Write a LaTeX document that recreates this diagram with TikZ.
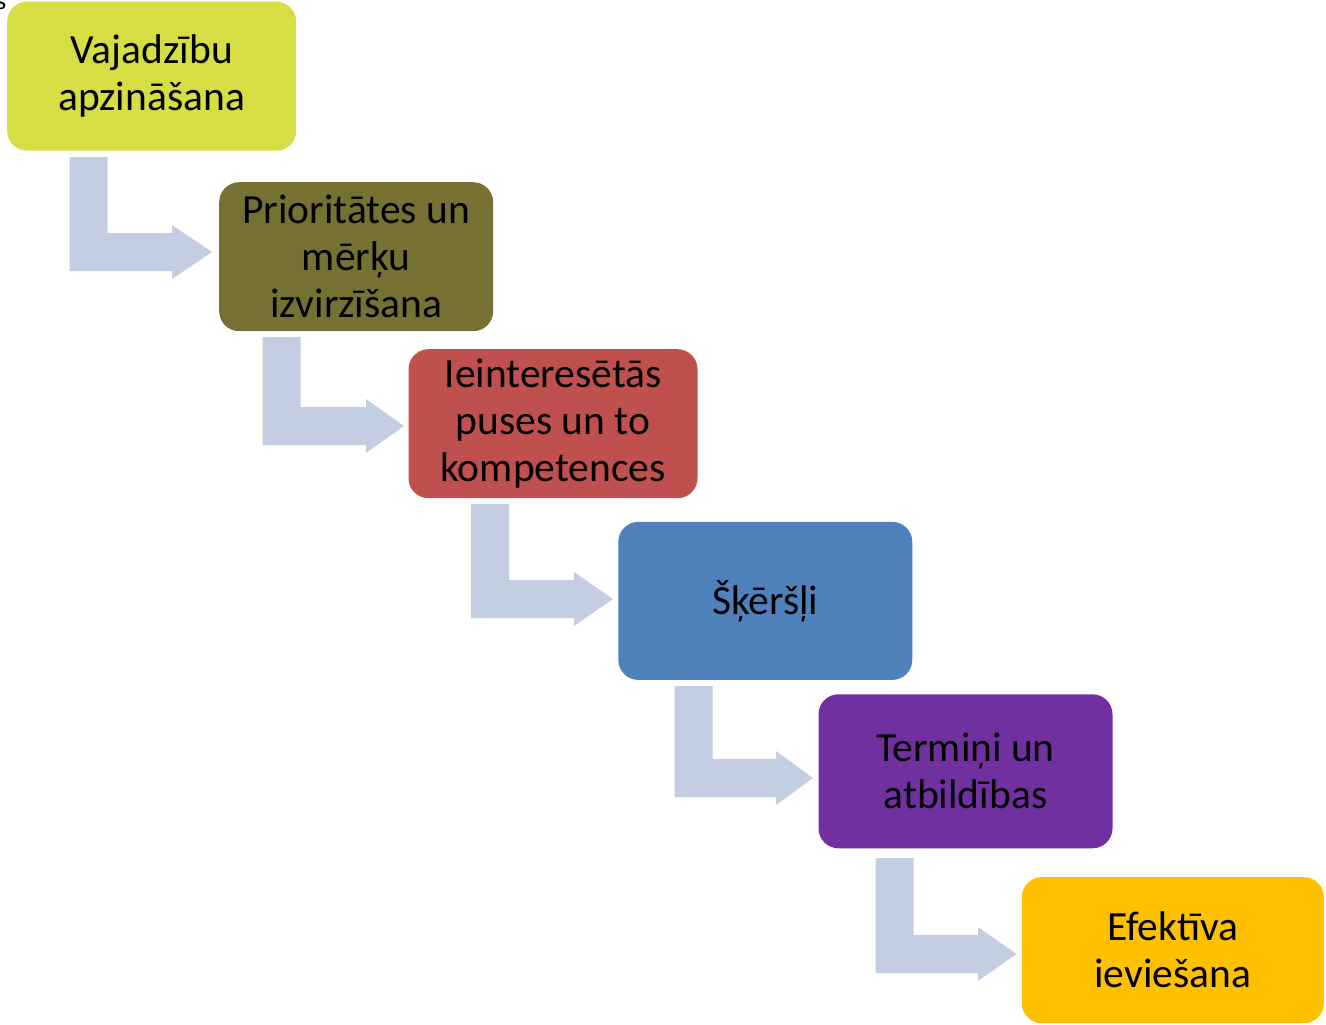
\documentclass[tikz,border=0pt]{standalone}
\usepackage{fontspec}
\setmainfont{Carlito}
\definecolor{cA}{RGB}{214,222,67}
\definecolor{cB}{RGB}{118,113,51}
\definecolor{cC}{RGB}{192,80,77}
\definecolor{cD}{RGB}{79,129,189}
\definecolor{cE}{RGB}{112,48,160}
\definecolor{cF}{RGB}{255,192,0}
\definecolor{cArr}{RGB}{195,206,227}
\newcommand\bentarr[5]{% L, T, B, H, P
  \fill[cArr] (#1,#2) -- (#1+38,#2) -- (#1+38,#3) -- (#4,#3) -- (#4,#3-8)
    -- (#5,#3+19) -- (#4,#3+46) -- (#4,#3+38) -- (#1,#3+38) -- cycle;}
\begin{document}
\begin{tikzpicture}[x=1pt,y=-1pt,
  stagebox/.style={rounded corners=20pt, inner sep=0pt, align=center,
    font=\fontsize{41.5}{47}\selectfont, text=black}]
\useasboundingbox (0,0) rectangle (1326,1025);
\node[anchor=south west, inner sep=0pt, font=\fontsize{26}{30}\selectfont] (frag) at (-4,10) {s};
\node[stagebox, fill=cA, minimum width=289pt, minimum height=149pt] (b1) at (151.7,76.2) {Vajadzību\\apzināšana};
\node[stagebox, fill=cB, minimum width=274pt, minimum height=149pt] (b2) at (356.2,256.7) {Prioritātes un\\mērķu\\izvirzīšana};
\node[stagebox, fill=cC, minimum width=289pt, minimum height=149pt] (b3) at (553,423.7) {Ieinteresētās\\puses un to\\kompetences};
\node[stagebox, fill=cD, minimum width=294pt, minimum height=158pt] (b4) at (765.3,600.9) {Šķēršļi};
\node[stagebox, fill=cE, minimum width=294pt, minimum height=154pt] (b5) at (965.5,771.3) {Termiņi un\\atbildības};
\node[stagebox, fill=cF, minimum width=302pt, minimum height=146pt] (b6) at (1172.8,950.2) {Efektīva\\ieviešana};
\bentarr{69.5}{157}{233}{172}{212}
\bentarr{262.5}{337}{407}{366}{404}
\bentarr{471}{504}{580}{574}{613}
\bentarr{674.5}{686}{759}{776}{813}
\bentarr{875.5}{858}{935}{978}{1016.5}
\end{tikzpicture}
\end{document}
